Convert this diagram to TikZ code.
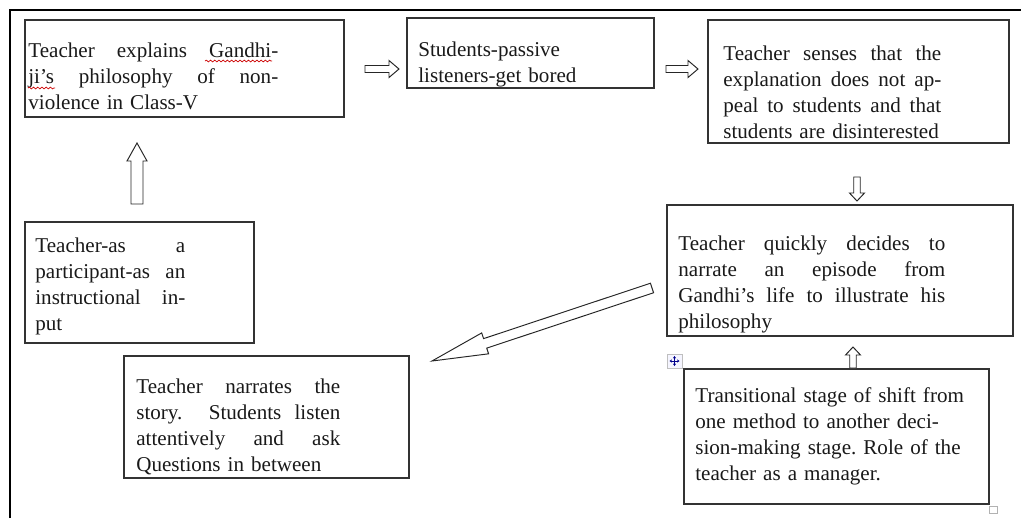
\documentclass[tikz,border=0pt]{standalone}
\usepackage{fontspec}
\setmainfont{Liberation Serif}
\usetikzlibrary{calc,fit,arrows.meta,decorations.pathmorphing}

% one justified line of a box text
\newcommand{\jline}[1]{\makebox[\hsize][s]{\spaceskip=0pt\xspaceskip=0pt\relax #1}}

% hollow block arrow: tail, tip, half shaft, half head, head length
\newcommand{\hollowarrow}[5]{%
  \coordinate (hb) at ($(#2)!#5!(#1)$);
  \draw[arrowline] ($(#1)!#3!90:(#2)$) -- ($(hb)!#3!90:(#2)$) -- ($(hb)!#4!90:(#2)$) -- (#2)
    -- ($(hb)!#4!-90:(#2)$) -- ($(hb)!#3!-90:(#2)$) -- ($(#1)!#3!-90:(#2)$) -- cycle;}

\begin{document}
\begin{tikzpicture}[x=0.02cm, y=-0.02cm,  % one unit = one pixel, y downwards
    box/.style={draw=black!80, line width=0.7pt, inner sep=0pt, rectangle},
    txt/.style={anchor=base west, inner sep=0pt, align=left,
                font=\fontsize{12}{14.8}\selectfont\frenchspacing, text=black!90},
    arrowline/.style={draw=black!85, line width=0.55pt, fill=white, line join=miter},
    frame/.style={line width=1.7pt, line join=miter},
    wavy/.style={red!80!black, line width=0.4pt, decorate,
                 decoration={snake, amplitude=0.5pt, segment length=2.4pt}}]

    \useasboundingbox (0,0) rectangle (1021,518);

    % page frame
    \draw[frame] (10,518) -- (10,10) -- (1021,10);

    % boxes
    \node[box, fit={(25,20) (344,117)}] (gandhi) {};
    \node[box, fit={(407,18) (654,88)}] (passive) {};
    \node[box, fit={(708,20) (1009,143)}] (senses) {};
    \node[box, fit={(667,205) (1013,336)}] (decides) {};
    \node[box, fit={(684,369) (989,504)}] (transit) {};
    \node[box, fit={(124,356) (409,478)}] (narrate) {};
    \node[box, fit={(25,222) (254,343)}] (participant) {};

    % texts
    \node[txt, text width=5.0cm] (gandhitxt) at (28,57)
        {\jline{Teacher explains Gandhi-}\\ \jline{ji’s philosophy of non-}\\ violence in Class-V};
    \node[txt, text width=4.5cm] (passivetxt) at (418,56)
        {Students-passive\\ listeners-get bored};
    \node[txt, text width=4.36cm] (sensestxt) at (723,60)
        {\jline{Teacher senses that the}\\ \jline{explanation does not ap-}\\
         \jline{peal to students and that}\\ \mbox{students are disinterested}};
    \node[txt, text width=5.34cm] (decidestxt) at (678,250)
        {\jline{Teacher quickly decides to}\\ \jline{narrate an episode from}\\
         \jline{Gandhi’s life to illustrate his}\\ philosophy};
    \node[txt, text width=5.8cm] (transittxt) at (695,402)
        {Transitional stage of shift from\\ one method to another deci-\\
         sion-making stage. Role of the\\ teacher as a manager.};
    \node[txt, text width=4.08cm] (narratetxt) at (136,393)
        {\jline{Teacher narrates the}\\ \jline{story.\ \ Students listen}\\
         \jline{attentively and ask}\\ Questions in between};
    \node[txt, text width=3.0cm] (participanttxt) at (35,252)
        {\jline{Teacher-as a}\\ \jline{participant-as an}\\ \jline{instructional in-}\\ put};

    % spelling marks
    \draw[wavy] (205,61) -- (272,61);
    \draw[wavy] (28,88) -- (55,88);

    % block arrows
    \coordinate (ab1) at (365,69);  \coordinate (ab2) at (399,69);
    \hollowarrow{ab1}{ab2}{0.07cm}{0.17cm}{0.2cm}
    \coordinate (bc1) at (666,69);  \coordinate (bc2) at (698,69);
    \hollowarrow{bc1}{bc2}{0.07cm}{0.17cm}{0.2cm}
    \coordinate (cd1) at (857,177); \coordinate (cd2) at (857,201);
    \hollowarrow{cd1}{cd2}{0.065cm}{0.15cm}{0.16cm}
    \coordinate (ed1) at (853,368); \coordinate (ed2) at (853,347);
    \hollowarrow{ed1}{ed2}{0.065cm}{0.15cm}{0.16cm}
    \coordinate (ga1) at (137,204); \coordinate (ga2) at (137,143);
    \hollowarrow{ga1}{ga2}{0.12cm}{0.2cm}{0.36cm}
    \coordinate (df1) at (652,288); \coordinate (df2) at (432,361);
    \hollowarrow{df1}{df2}{0.1cm}{0.22cm}{1.12cm}

    % move handle and resize handle
    \draw[gray!50, fill=blue!4, line width=0.3pt] (667,354) rectangle (682,368);
    \draw[blue!55!black, line width=0.4pt, {Stealth[length=1.4pt,width=1.8pt]}-{Stealth[length=1.4pt,width=1.8pt]}]
        (669.5,361) -- (679.5,361);
    \draw[blue!55!black, line width=0.4pt, {Stealth[length=1.4pt,width=1.8pt]}-{Stealth[length=1.4pt,width=1.8pt]}]
        (674.5,356) -- (674.5,366);
    \draw[gray!60, fill=white, line width=0.4pt] (989,506) rectangle (997,513);

\end{tikzpicture}
\end{document}
